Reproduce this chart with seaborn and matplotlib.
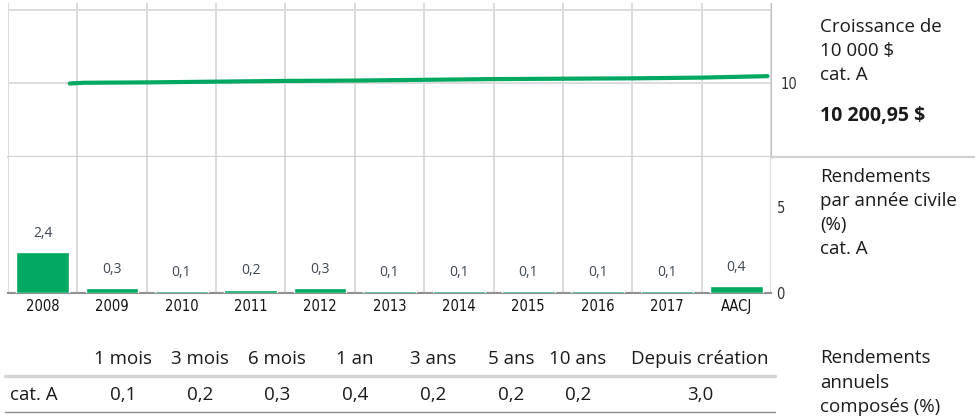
import matplotlib
matplotlib.use('Agg')
import matplotlib.pyplot as plt
import seaborn as sns
from matplotlib.lines import Line2D
from matplotlib import font_manager

# ---- data ----
growth_x = [2008.89, 2009.1, 2010.0, 2011.0, 2012.0, 2013.0, 2014.0, 2015.0, 2016.0, 2017.0, 2018.0, 2018.95]
growth_k = [10.00, 10.02, 10.03, 10.05, 10.07, 10.08, 10.10, 10.12, 10.13, 10.14, 10.16, 10.20]

years = ['2008', '2009', '2010', '2011', '2012', '2013', '2014', '2015', '2016', '2017', 'AACJ']
returns = [2.4, 0.3, 0.1, 0.2, 0.3, 0.1, 0.1, 0.1, 0.1, 0.1, 0.4]

periods = ['1 mois', '3 mois', '6 mois', '1 an', '3 ans', '5 ans', '10 ans', 'Depuis création']
period_returns = [0.1, 0.2, 0.3, 0.4, 0.2, 0.2, 0.2, 3.0]
period_x = [123, 200, 277, 355, 433, 511, 578, 700]

final_value = '10 200,95 $'

GREEN = '#00a862'
GRID = '#dcdcdc'
TEXT = '#1a1a1a'
W, H = 975, 418
FS = 13.5


def fr(v):
    return f"{v:.1f}".replace('.', ',')


sns.set_style('white')
plt.rcParams['font.family'] = ['Open Sans', 'DejaVu Sans']

# narrow face for axis tick labels, whatever is available
fonts = font_manager.fontManager.ttflist
if any(f.name == 'Liberation Sans Narrow' for f in fonts):
    narrow = dict(family='Liberation Sans Narrow', fontsize=12)
elif any(f.name == 'DejaVu Sans' and f.stretch == 'condensed' for f in fonts):
    narrow = dict(family='DejaVu Sans', stretch='condensed', fontsize=10.5)
else:
    narrow = dict(family='Liberation Sans', fontsize=10)

fig = plt.figure(figsize=(W / 100, H / 100), dpi=100)

ax_l, ax_r = 8 / W, 771 / W
ax1 = fig.add_axes([ax_l, 1 - 157 / H, ax_r - ax_l, 154 / H])
ax2 = fig.add_axes([ax_l, 1 - 293 / H, ax_r - ax_l, 136 / H])

# ---- growth of 10 000 $ ----
sns.lineplot(x=growth_x, y=growth_k, color=GREEN, lw=3.0, ax=ax1,
             solid_capstyle='round', zorder=3)
ax1.set_xlim(2008, 2019)
ax1.set_ylim(8, 12.19)
ax1.set_xticks(range(2008, 2020))
ax1.set_xticklabels([])
ax1.set_yticks([8, 10, 12])
ax1.set_yticklabels(['', '10', ''], color='#333333', **narrow)
ax1.yaxis.tick_right()
ax1.tick_params(axis='y', length=0, pad=7)
ax1.tick_params(axis='x', length=3, color=GRID, width=1.2, direction='out')
ax1.grid(True, color=GRID, lw=1.4)
for s in ['top', 'left', 'bottom']:
    ax1.spines[s].set_visible(False)
ax1.spines['right'].set_color('#c0c0c0')
ax1.spines['right'].set_linewidth(0.7)
ax1.axhline(8, xmin=0, xmax=(W - 8) / (771 - 8), color='#d0d0d0', lw=1.6,
            clip_on=False, zorder=1)

# ---- calendar returns ----
sns.barplot(x=years, y=returns, color=GREEN, saturation=1, width=0.76, ax=ax2, zorder=3)
ax2.bar_label(ax2.containers[0], labels=[fr(v) for v in returns], padding=8,
              fontsize=10, color='#3c4650')
ax2.set_xlim(-0.5, 10.5)
ax2.set_ylim(0, 7.9)
ax2.set_xlabel('')
ax2.set_ylabel('')
ax2.set_xticks(range(len(years)))
ax2.set_xticklabels(years, color='#111111', **narrow)
ax2.set_xticks([i - 0.5 for i in range(len(years) + 1)], minor=True)
ax2.tick_params(axis='x', which='major', length=0, pad=4)
ax2.tick_params(axis='x', which='minor', length=3, color='#999999', width=1)
ax2.grid(True, which='minor', axis='x', color=GRID, lw=1.4)
ax2.set_yticks([0, 5])
ax2.set_yticklabels(['0', '5'], color='#333333', **narrow)
ax2.yaxis.tick_right()
ax2.tick_params(axis='y', length=0, pad=4)
for s in ['top', 'left', 'right']:
    ax2.spines[s].set_visible(False)
ax2.spines['bottom'].set_color('#909090')
ax2.spines['bottom'].set_linewidth(1.5)


# ---- side captions ----
def lines_at(x, y0, lines, step=24, size=FS, **kw):
    for i, t in enumerate(lines):
        fig.text(x / W, 1 - (y0 + i * step) / H, t, ha='left', va='center',
                 fontsize=size, color=TEXT, **kw)


lines_at(820, 27, ['Croissance de', '10 000 $', 'cat. A'])
lines_at(820, 116, [final_value], size=14, weight='bold')
lines_at(820, 177, ['Rendements', 'par année civile', '(%)', 'cat. A'])
lines_at(820, 358, ['Rendements', 'annuels', 'composés (%)'], step=24.5)

# ---- compound returns table ----
for px, p, v in zip(period_x, periods, period_returns):
    fig.text(px / W, 1 - 359 / H, p, ha='center', va='center', fontsize=FS, color=TEXT)
    fig.text(px / W, 1 - 395 / H, fr(v), ha='center', va='center', fontsize=FS, color=TEXT)
fig.text(10 / W, 1 - 395 / H, 'cat. A', ha='left', va='center', fontsize=FS, color=TEXT)
fig.add_artist(Line2D([5 / W, 775 / W], [1 - 376 / H] * 2, color='#d4d4d4', lw=2.4))
fig.add_artist(Line2D([5 / W, 775 / W], [1 - 412 / H] * 2, color='#8c8c8c', lw=1.0))

fig.savefig('out.png', dpi=100)
